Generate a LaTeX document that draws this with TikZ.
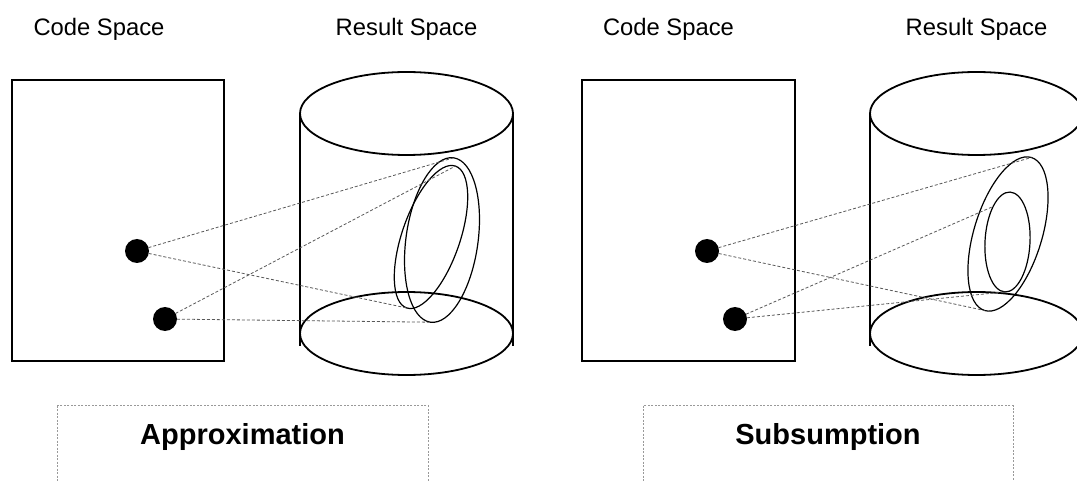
\documentclass[tikz,border=0pt]{standalone}
\usepackage{fontspec}
\setmainfont{Liberation Sans}
\usetikzlibrary{shapes.geometric}
\tikzset{
  space/.style={draw, line width=1.8pt, inner sep=0pt, outer sep=0pt},
  capell/.style={ellipse, draw, line width=1.8pt, inner sep=0pt, outer sep=0pt, minimum width=213pt, minimum height=83pt},
  region/.style={ellipse, draw, line width=1.2pt, inner sep=0pt, outer sep=0pt},
  point/.style={circle, fill=black, inner sep=0pt, outer sep=0pt, minimum size=24pt},
  link/.style={draw=black!65, line width=0.8pt, dash pattern=on 3pt off 2pt},
  title/.style={font=\fontsize{23.8}{28}\selectfont, anchor=base},
  label/.style={font=\fontsize{29}{34}\selectfont\bfseries, anchor=base},
  framebox/.style={draw=black!40, line width=0.8pt, dash pattern=on 2pt off 1.5pt}
}
\begin{document}
\begin{tikzpicture}[x=1pt, y=-1pt]
\useasboundingbox (0,0) rectangle (1077,481);
\clip (0,0) rectangle (1077,481);
\fill[white] (0,0) rectangle (1077,481);

% ---------- Left panel: Approximation ----------
\node[title] (cs1) at (99,35.5) {Code Space};
\node[title] (rs1) at (406.5,35.5) {Result Space};
\node[space, minimum width=212pt, minimum height=281pt] (code1) at (118,220.5) {};
\node[capell] (top1) at (406.5,113.5) {};
\node[capell] (bot1) at (406.5,333.5) {};
\draw[line width=1.8pt] (top1.west) -- ([yshift=-12pt]bot1.west);
\draw[line width=1.8pt] (top1.east) -- ([yshift=-12pt]bot1.east);
\node[region, minimum width=72pt, minimum height=166pt, rotate=-8] (A) at (442,240) {};
\node[region, minimum width=58pt, minimum height=150pt, rotate=-19] (B) at (431,237) {};
\node[point] (p1) at (137,251) {};
\node[point] (p2) at (165,319) {};
\draw[link] (p1) -- (A.north);
\draw[link] (p1) -- (B.south);
\draw[link] (p2) -- (B.north);
\draw[link] (p2) -- (A.south);
\draw[framebox] (57,405.5) rectangle (428,520);
\node[label] (lab1) at (242.5,444.5) {Approximation};

% ---------- Right panel: Subsumption ----------
\node[title] (cs2) at (668.5,35.5) {Code Space};
\node[title] (rs2) at (976.5,35.5) {Result Space};
\node[space, minimum width=213pt, minimum height=281pt] (code2) at (688.5,220.5) {};
\node[capell] (top2) at (976.5,113.5) {};
\node[capell] (bot2) at (976.5,333.5) {};
\draw[line width=1.8pt] (top2.west) -- ([yshift=-12pt]bot2.west);
\draw[line width=1.8pt] (top2.east) -- ([yshift=-12pt]bot2.east);
\node[region, minimum width=68pt, minimum height=160pt, rotate=-17] (C) at (1008,234) {};
\node[region, minimum width=45pt, minimum height=100pt, rotate=-3] (D) at (1007.5,242) {};
\node[point] (q1) at (707,251) {};
\node[point] (q2) at (735,319) {};
\draw[link] (q1) -- (C.north);
\draw[link] (q1) -- (C.south);
\draw[link] (q2) -- (D.115);
\draw[link] (q2) -- (D.south);
\draw[framebox] (643,405.5) rectangle (1013,520);
\node[label] (lab2) at (828,444.5) {Subsumption};
\end{tikzpicture}
\end{document}
